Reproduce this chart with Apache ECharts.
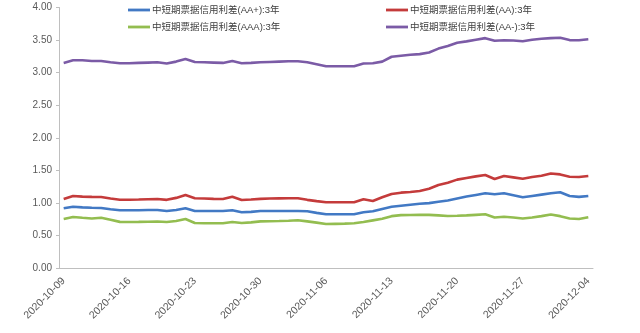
<!DOCTYPE html>
<html>
<head>
<meta charset="utf-8">
<script src="https://cdn.jsdelivr.net/npm/echarts@6/dist/echarts.min.js"></script>
<style>
  html, body { margin: 0; padding: 0; background: #ffffff; }
  #chart { width: 640px; height: 333px; }
</style>
</head>
<body>
<div id="chart"></div>
<script>
// Daily dates, 2020-10-09 .. 2020-12-04
const dates = [
  '2020-10-09','2020-10-10','2020-10-11','2020-10-12','2020-10-13','2020-10-14','2020-10-15',
  '2020-10-16','2020-10-17','2020-10-18','2020-10-19','2020-10-20','2020-10-21','2020-10-22',
  '2020-10-23','2020-10-24','2020-10-25','2020-10-26','2020-10-27','2020-10-28','2020-10-29',
  '2020-10-30','2020-10-31','2020-11-01','2020-11-02','2020-11-03','2020-11-04','2020-11-05',
  '2020-11-06','2020-11-07','2020-11-08','2020-11-09','2020-11-10','2020-11-11','2020-11-12',
  '2020-11-13','2020-11-14','2020-11-15','2020-11-16','2020-11-17','2020-11-18','2020-11-19',
  '2020-11-20','2020-11-21','2020-11-22','2020-11-23','2020-11-24','2020-11-25','2020-11-26',
  '2020-11-27','2020-11-28','2020-11-29','2020-11-30','2020-12-01','2020-12-02','2020-12-03',
  '2020-12-04'
];

const seriesNames = [
  '中短期票据信用利差(AA+):3年',
  '中短期票据信用利差(AA):3年',
  '中短期票据信用利差(AAA):3年',
  '中短期票据信用利差(AA-):3年'
];

const spreadAAplus = [
  0.92, 0.945, 0.935, 0.928, 0.925, 0.905, 0.89, 0.89, 0.89, 0.895, 0.895, 0.879, 0.895, 0.92,
  0.879, 0.879, 0.879, 0.879, 0.89, 0.859, 0.865, 0.879, 0.879, 0.879, 0.879, 0.879, 0.874, 0.85,
  0.828, 0.828, 0.828, 0.828, 0.859, 0.874, 0.91, 0.945, 0.96, 0.975, 0.99, 1.00, 1.02, 1.04,
  1.07, 1.10, 1.125, 1.15, 1.135, 1.15, 1.12, 1.089, 1.11, 1.13, 1.15, 1.166, 1.11, 1.095, 1.109
];

const spreadAA = [
  1.063, 1.11, 1.10, 1.095, 1.094, 1.07, 1.052, 1.052, 1.055, 1.06, 1.062, 1.05, 1.08, 1.124,
  1.075, 1.07, 1.065, 1.063, 1.098, 1.048, 1.055, 1.065, 1.07, 1.072, 1.074, 1.074, 1.05, 1.03,
  1.012, 1.012, 1.012, 1.012, 1.058, 1.032, 1.09, 1.14, 1.16, 1.17, 1.185, 1.22, 1.278, 1.313,
  1.36, 1.385, 1.41, 1.431, 1.37, 1.416, 1.395, 1.374, 1.40, 1.42, 1.455, 1.44, 1.405, 1.40, 1.416
];

const spreadAAA = [
  0.756, 0.787, 0.775, 0.765, 0.776, 0.745, 0.712, 0.71, 0.712, 0.715, 0.718, 0.71, 0.725, 0.756,
  0.695, 0.69, 0.69, 0.69, 0.71, 0.695, 0.705, 0.72, 0.722, 0.725, 0.73, 0.736, 0.72, 0.70,
  0.679, 0.682, 0.685, 0.69, 0.71, 0.735, 0.76, 0.80, 0.815, 0.818, 0.82, 0.82, 0.812, 0.803,
  0.805, 0.812, 0.82, 0.828, 0.78, 0.79, 0.78, 0.765, 0.78, 0.80, 0.825, 0.80, 0.765, 0.755, 0.782
];

const spreadAAminus = [
  3.15, 3.19, 3.19, 3.18, 3.18, 3.16, 3.145, 3.145, 3.15, 3.155, 3.16, 3.14, 3.17, 3.21,
  3.165, 3.16, 3.155, 3.15, 3.18, 3.145, 3.15, 3.16, 3.165, 3.17, 3.175, 3.175, 3.16, 3.13,
  3.10, 3.10, 3.10, 3.10, 3.14, 3.145, 3.17, 3.245, 3.26, 3.275, 3.285, 3.31, 3.37, 3.41,
  3.46, 3.48, 3.505, 3.53, 3.49, 3.497, 3.495, 3.482, 3.505, 3.52, 3.53, 3.537, 3.50, 3.497, 3.512
];

const colors = ['#4279c4', '#c43b3b', '#93bd50', '#7b5ba6'];
const values = [spreadAAplus, spreadAA, spreadAAA, spreadAAminus];

const font = '"Liberation Sans", Arial, "Noto Sans CJK SC", sans-serif';
const axisGrey = '#bfbfbf';
const labelGrey = '#595959';

const chart = echarts.init(document.getElementById('chart'), null, { renderer: 'canvas' });

const legendCommon = {
  orient: 'vertical',
  top: -2,
  itemWidth: 22,
  itemHeight: 10,
  itemGap: 3,
  icon: 'path://M0,3.8 L22,3.8 L22,6.6 L0,6.6 Z',
  textStyle: { fontFamily: font, fontSize: 9.5, color: '#404040', lineHeight: 14, padding: [0, 0, 0, -3] }
};

chart.setOption({
  animation: false,
  backgroundColor: '#ffffff',
  color: colors,
  grid: { left: 59, right: 47, top: 7.5, bottom: 64.7, containLabel: false },
  legend: [
    Object.assign({}, legendCommon, { left: 123, data: [seriesNames[0], seriesNames[2]] }),
    Object.assign({}, legendCommon, { left: 381, data: [seriesNames[1], seriesNames[3]] })
  ],
  xAxis: {
    type: 'category',
    data: dates,
    boundaryGap: true,
    axisLine: { lineStyle: { color: axisGrey, width: 1 } },
    axisTick: { interval: 6, length: 4, lineStyle: { color: axisGrey } },
    axisLabel: {
      interval: 6,
      rotate: 45,
      margin: 11,
      fontFamily: font,
      fontSize: 10.5,
      color: labelGrey
    },
    splitLine: { show: false }
  },
  yAxis: {
    type: 'value',
    min: 0,
    max: 4,
    interval: 0.5,
    axisLine: { show: true, lineStyle: { color: axisGrey, width: 1 } },
    axisTick: { show: true, length: 3, lineStyle: { color: axisGrey } },
    axisLabel: {
      margin: 7,
      fontFamily: font,
      fontSize: 10,
      color: labelGrey,
      formatter: v => v.toFixed(2)
    },
    splitLine: { show: false }
  },
  series: seriesNames.map((name, k) => ({
    name: name,
    type: 'line',
    data: values[k],
    symbol: 'none',
    smooth: false,
    lineStyle: { width: 2.6, color: colors[k] },
    itemStyle: { color: colors[k] }
  }))
});
</script>
</body>
</html>
